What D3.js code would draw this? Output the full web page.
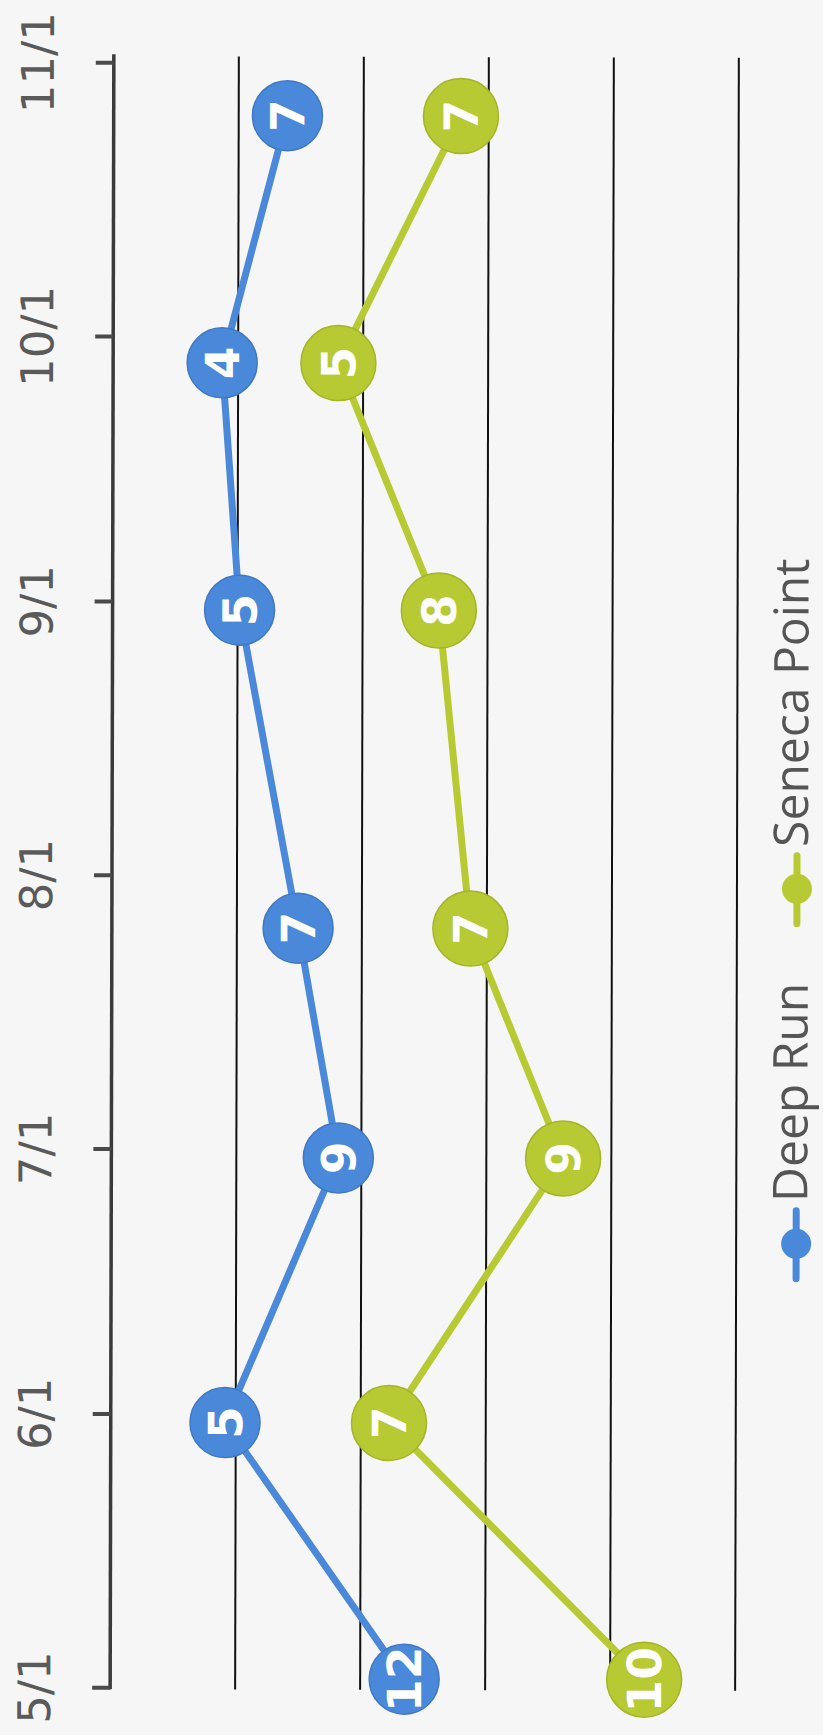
<!DOCTYPE html>
<html>
<head>
<meta charset="utf-8">
<script src="https://cdn.jsdelivr.net/npm/d3@7"></script>
<style>
  html, body { margin: 0; padding: 0; background: #f6f6f6; }
  svg { display: block; }
</style>
</head>
<body>
<svg id="chart" width="823" height="1735"></svg>
<script>
// ---- data ----
const seriesNames = ["Deep Run", "Seneca Point"];
const sampleDates = ["2019-05-02", "2019-05-31", "2019-06-30", "2019-07-26", "2019-08-31", "2019-09-28", "2019-10-26"];
const deepRun = [11.76, 4.57, 9.08, 7.45, 5.08, 4.36, 6.95];
const senecaPoint = [9.6, 6.56, 8.99, 6.89, 7.97, 4.65, 6.94];
const tickDates = ["2019-05-01", "2019-06-01", "2019-07-01", "2019-08-01", "2019-09-01", "2019-10-01", "2019-11-01"];
const valueTicks = [5, 10, 15, 20, 25];
const colors = ["#4a89d9", "#b7ca33"];
const strokeColors = ["#3f78c6", "#a3b527"];
const markerR = [35, 37.5];

// ---- setup ----
const parse = d3.timeParse("%Y-%m-%d");
const svg = d3.select("#chart");
svg.append("rect").attr("width", 823).attr("height", 1735).attr("fill", "#f6f6f6");

const g = svg.append("g").attr("transform", "rotate(0.13, 420, 870)");

const y = d3.scaleTime()
  .domain([parse(tickDates[0]), parse(tickDates[tickDates.length - 1])])
  .range([1688, 63]);
const x = d3.scaleLinear().domain([0, 25]).range([112, 737]);

// gridlines
g.append("g").selectAll("line").data(valueTicks).join("line")
  .attr("x1", d => x(d)).attr("x2", d => x(d))
  .attr("y1", 57).attr("y2", 1690)
  .attr("stroke", "#111").attr("stroke-width", 2);

// date axis
const axis = d3.axisLeft(y)
  .tickValues(tickDates.map(parse))
  .tickFormat(d3.timeFormat("%-m/%-d"))
  .tickSize(18)
  .tickSizeOuter(0);
const ax = g.append("g").attr("transform", `translate(${x(0)},0)`).call(axis);
ax.select(".domain").attr("stroke", "#3a3a3a").attr("stroke-width", 3.5)
  .attr("d", `M0,55V1690`);
ax.selectAll(".tick line").attr("stroke", "#4a4a4a").attr("stroke-width", 4);
ax.selectAll(".tick text")
  .attr("x", null).attr("dy", null)
  .attr("transform", "translate(-60,0) rotate(-90)")
  .attr("text-anchor", "middle")
  .attr("fill", "#5a5a5a")
  .attr("font-family", "DejaVu Sans, Verdana, sans-serif")
  .attr("font-size", 45);

// stacked values
const rows = sampleDates.map((d, i) => ({ date: parse(d), "Deep Run": deepRun[i], "Seneca Point": senecaPoint[i] }));
const stacked = d3.stack().keys(seriesNames)(rows);
const fmt = d3.format(".0f");

const line = d3.line().x(d => x(d[1])).y(d => y(d.data.date));

stacked.forEach((s, si) => {
  g.append("path").datum(s)
    .attr("d", line)
    .attr("fill", "none")
    .attr("stroke", colors[si])
    .attr("stroke-width", 7)
    .attr("stroke-linejoin", "round");
});

stacked.forEach((s, si) => {
  const mg = g.append("g");
  mg.selectAll("circle").data(s).join("circle")
    .attr("cx", d => x(d[1])).attr("cy", d => y(d.data.date))
    .attr("r", markerR[si])
    .attr("fill", colors[si])
    .attr("stroke", strokeColors[si]).attr("stroke-width", 1.5);
  mg.selectAll("text").data(s).join("text")
    .attr("transform", d => `translate(${x(d[1])},${y(d.data.date)}) rotate(-90)`)
    .attr("text-anchor", "middle")
    .attr("dy", "0.36em")
    .attr("fill", "#ffffff")
    .attr("font-family", "DejaVu Sans, sans-serif")
    .attr("font-weight", "bold")
    .attr("font-size", 47)
    .text(d => fmt(d.data[s.key]));
});

// legend
const legendY = [1243, 888];
const legend = g.append("g");
seriesNames.forEach((name, i) => {
  const cy = legendY[i];
  legend.append("line")
    .attr("x1", 797).attr("x2", 797).attr("y1", cy - 33).attr("y2", cy + 35)
    .attr("stroke", colors[i]).attr("stroke-width", 7).attr("stroke-linecap", "round");
  legend.append("circle").attr("cx", 797).attr("cy", cy).attr("r", 15).attr("fill", colors[i]);
  legend.append("text")
    .attr("transform", `translate(808,${cy - 42}) rotate(-90)`)
    .attr("text-anchor", "start")
    .attr("fill", "#555555")
    .attr("font-family", "Open Sans, sans-serif")
    .attr("font-size", 48)
    .text(name);
});
</script>
</body>
</html>
